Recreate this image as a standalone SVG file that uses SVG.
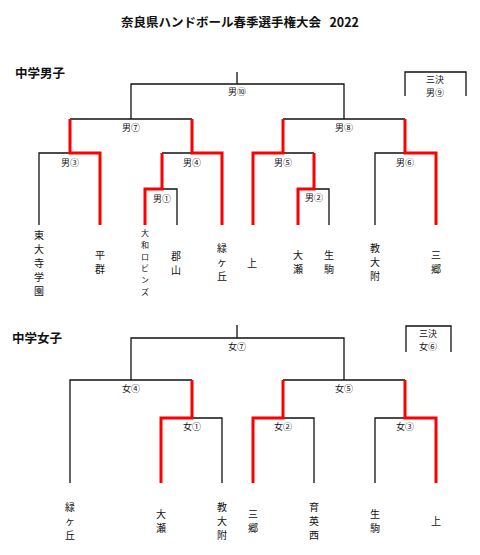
<svg xmlns="http://www.w3.org/2000/svg" width="480" height="555" viewBox="0 0 480 555">
<style>
.t{font-family:"Noto Sans CJK JP","Noto Sans",sans-serif;fill:#111;text-anchor:middle;dominant-baseline:central}
.title{font-size:12.5px;font-weight:bold}
.sec{font-size:12.5px;font-weight:bold;text-anchor:start}
.lb{font-size:9px}
.nm{font-size:10px}
.sm{font-size:8px}
.bk{fill:none;stroke:#111;stroke-width:1.3}
.rd{fill:none;stroke:#ff0000;stroke-width:3;stroke-linejoin:miter}
</style>
<rect width="480" height="555" fill="#fff"/>
<text class="t title" x="240" y="21">奈良県ハンドボール春季選手権大会&#160;&#160;&#160;2022</text>
<text class="t sec" x="15" y="72">中学男子</text>
<text class="t sec" x="12" y="337">中学女子</text>
<g id="connectors">
<path class="bk" d="M237 72V84M131 119V84H344V119M405 96V72H466V96M70 119H192M39 225V153H70M162 153H192M162 189H177V225M283 119H405M283 153H314M314 189H329V225M375 225V153H405"/>
<path class="bk" d="M237 325V338M131 380V338H344V380M406 352V326H451V352M70 483V380H192M192 418H222V483M283 380H405M314 483V418H283M375 483V418H405"/>
<path class="rd" d="M100 225V153H70V119M145 225V189H162V153M222 225V153H192V119M253 225V153H283V119M298 225V189H314V153M436 225V153H405V119"/>
<path class="rd" d="M161 483V418H192V380M253 483V418H283V380M436 483V418H405V380"/>
</g>
<g id="m-b10"><text class="t lb" x="237" y="91">男⑩</text></g>
<g id="m-b9"><text class="t lb" x="435" y="79">三決</text><text class="t lb" x="435" y="92">男⑨</text></g>
<g id="m-b7"><text class="t lb" x="131" y="127">男⑦</text></g>
<g id="m-b8"><text class="t lb" x="344" y="127">男⑧</text></g>
<g id="m-b3"><text class="t lb" x="70" y="162">男③</text></g>
<g id="m-b4"><text class="t lb" x="192" y="162">男④</text></g>
<g id="m-b1"><text class="t lb" x="162" y="198">男①</text></g>
<g id="m-b5"><text class="t lb" x="283" y="162">男⑤</text></g>
<g id="m-b2"><text class="t lb" x="314" y="197">男②</text></g>
<g id="m-b6"><text class="t lb" x="405" y="162">男⑥</text></g>
<g id="tb1"><text class="t nm" x="39" y="234"><tspan x="39">東</tspan><tspan x="39" dy="14">大</tspan><tspan x="39" dy="14">寺</tspan><tspan x="39" dy="14">学</tspan><tspan x="39" dy="14">園</tspan></text></g>
<g id="tb2"><text class="t nm" x="100" y="254"><tspan x="100">平</tspan><tspan x="100" dy="14">群</tspan></text></g>
<g id="tb3"><text class="t sm" x="145" y="232"><tspan x="145">大</tspan><tspan x="145" dy="11.8">和</tspan><tspan x="145" dy="11.8">ロ</tspan><tspan x="145" dy="11.8">ビ</tspan><tspan x="145" dy="11.8">ン</tspan><tspan x="145" dy="11.8">ズ</tspan></text></g>
<g id="tb4"><text class="t nm" x="176" y="255"><tspan x="176">郡</tspan><tspan x="176" dy="14">山</tspan></text></g>
<g id="tb5"><text class="t nm" x="222" y="247"><tspan x="222">緑</tspan><tspan x="222" dy="14">ヶ</tspan><tspan x="222" dy="14">丘</tspan></text></g>
<g id="tb6"><text class="t nm" x="252" y="262">上</text></g>
<g id="tb7"><text class="t nm" x="298" y="254"><tspan x="298">大</tspan><tspan x="298" dy="14">瀬</tspan></text></g>
<g id="tb8"><text class="t nm" x="329" y="254"><tspan x="329">生</tspan><tspan x="329" dy="14">駒</tspan></text></g>
<g id="tb9"><text class="t nm" x="375" y="247"><tspan x="375">教</tspan><tspan x="375" dy="14">大</tspan><tspan x="375" dy="14">附</tspan></text></g>
<g id="tb10"><text class="t nm" x="436" y="254"><tspan x="436">三</tspan><tspan x="436" dy="14">郷</tspan></text></g>
<g id="m-g7"><text class="t lb" x="237" y="346">女⑦</text></g>
<g id="m-g6"><text class="t lb" x="428" y="333">三決</text><text class="t lb" x="428" y="346">女⑥</text></g>
<g id="m-g4"><text class="t lb" x="131" y="388">女④</text></g>
<g id="m-g5"><text class="t lb" x="344" y="388">女⑤</text></g>
<g id="m-g1"><text class="t lb" x="192" y="426">女①</text></g>
<g id="m-g2"><text class="t lb" x="283" y="426">女②</text></g>
<g id="m-g3"><text class="t lb" x="405" y="426">女③</text></g>
<g id="tg1"><text class="t nm" x="70" y="506"><tspan x="70">緑</tspan><tspan x="70" dy="14">ヶ</tspan><tspan x="70" dy="14">丘</tspan></text></g>
<g id="tg2"><text class="t nm" x="161" y="513"><tspan x="161">大</tspan><tspan x="161" dy="14">瀬</tspan></text></g>
<g id="tg3"><text class="t nm" x="222" y="506"><tspan x="222">教</tspan><tspan x="222" dy="14">大</tspan><tspan x="222" dy="14">附</tspan></text></g>
<g id="tg4"><text class="t nm" x="253" y="513"><tspan x="253">三</tspan><tspan x="253" dy="14">郷</tspan></text></g>
<g id="tg5"><text class="t nm" x="314" y="506"><tspan x="314">育</tspan><tspan x="314" dy="14">英</tspan><tspan x="314" dy="14">西</tspan></text></g>
<g id="tg6"><text class="t nm" x="375" y="513"><tspan x="375">生</tspan><tspan x="375" dy="14">駒</tspan></text></g>
<g id="tg7"><text class="t nm" x="436" y="520">上</text></g>
</svg>
